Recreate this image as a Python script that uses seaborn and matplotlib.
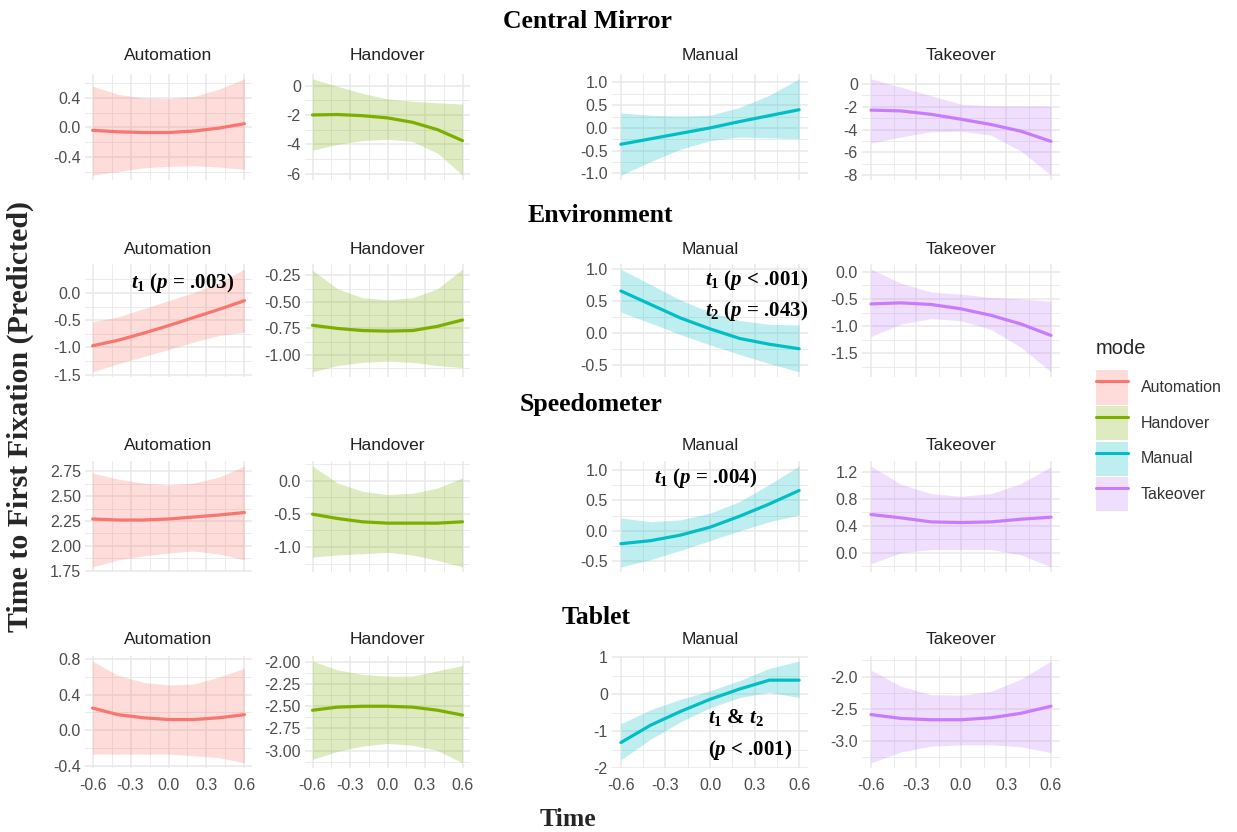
import numpy as np
import pandas as pd
import matplotlib
matplotlib.use("Agg")
import matplotlib.pyplot as plt
import seaborn as sns
from matplotlib.patches import Patch
from matplotlib.lines import Line2D

# ---------------- data ----------------
TIME = [-0.6, -0.4, -0.2, 0.0, 0.2, 0.4, 0.6]
MODES = ["Automation", "Handover", "Manual", "Takeover"]
AOIS = ["Central Mirror", "Environment", "Speedometer", "Tablet"]
COLORS = ["#F8766D", "#7CAE00", "#00BFC4", "#C77CFF"]
X_TICKS = [-0.6, -0.3, 0.0, 0.3, 0.6]

central_mirror_fit = {
    "Automation": [-0.04, -0.06, -0.07, -0.07, -0.05, -0.01, 0.05],
    "Handover": [-2.0, -1.97, -2.05, -2.2, -2.5, -3.0, -3.75],
    "Manual": [-0.36, -0.24, -0.12, 0.0, 0.14, 0.27, 0.40],
    "Takeover": [-2.3, -2.37, -2.67, -3.1, -3.56, -4.15, -5.04],
}
central_mirror_lo = {
    "Automation": [-0.65, -0.6, -0.55, -0.53, -0.52, -0.54, -0.57],
    "Handover": [-4.4, -4.0, -3.75, -3.65, -3.8, -4.6, -6.1],
    "Manual": [-1.04, -0.74, -0.47, -0.28, -0.2, -0.22, -0.24],
    "Takeover": [-5.2, -4.65, -4.2, -4.15, -4.5, -5.9, -8.0],
}
central_mirror_hi = {
    "Automation": [0.56, 0.45, 0.40, 0.39, 0.42, 0.52, 0.66],
    "Handover": [0.46, -0.05, -0.53, -0.91, -1.07, -1.17, -1.26],
    "Manual": [0.33, 0.28, 0.26, 0.28, 0.45, 0.72, 1.08],
    "Takeover": [0.44, -0.3, -1.04, -1.78, -1.93, -1.95, -1.95],
}

environment_fit = {
    "Automation": [-0.97, -0.87, -0.74, -0.6, -0.45, -0.3, -0.14],
    "Handover": [-0.72, -0.75, -0.77, -0.775, -0.77, -0.73, -0.67],
    "Manual": [0.66, 0.45, 0.24, 0.07, -0.08, -0.17, -0.24],
    "Takeover": [-0.59, -0.57, -0.6, -0.68, -0.8, -0.96, -1.17],
}
environment_lo = {
    "Automation": [-1.45, -1.3, -1.17, -1.04, -0.9, -0.78, -0.72],
    "Handover": [-1.16, -1.1, -1.07, -1.06, -1.07, -1.1, -1.12],
    "Manual": [0.33, 0.16, -0.02, -0.18, -0.33, -0.47, -0.6],
    "Takeover": [-1.19, -0.96, -0.86, -0.9, -1.06, -1.39, -1.84],
}
environment_hi = {
    "Automation": [-0.53, -0.44, -0.29, -0.14, 0.01, 0.19, 0.44],
    "Handover": [-0.2, -0.375, -0.46, -0.48, -0.46, -0.375, -0.19],
    "Manual": [1.0, 0.76, 0.52, 0.33, 0.2, 0.14, 0.13],
    "Takeover": [0.05, -0.21, -0.37, -0.41, -0.47, -0.5, -0.54],
}

speedometer_fit = {
    "Automation": [2.27, 2.26, 2.26, 2.27, 2.29, 2.31, 2.335],
    "Handover": [-0.505, -0.57, -0.62, -0.64, -0.64, -0.64, -0.62],
    "Manual": [-0.21, -0.16, -0.07, 0.06, 0.24, 0.44, 0.66],
    "Takeover": [0.57, 0.52, 0.46, 0.45, 0.46, 0.5, 0.53],
}
speedometer_lo = {
    "Automation": [1.79, 1.86, 1.90, 1.93, 1.95, 1.92, 1.86],
    "Handover": [-1.15, -1.12, -1.1, -1.08, -1.12, -1.2, -1.3],
    "Manual": [-0.59, -0.47, -0.32, -0.16, 0.0, 0.15, 0.26],
    "Takeover": [-0.16, 0.0, 0.05, 0.05, 0.05, -0.03, -0.21],
}
speedometer_hi = {
    "Automation": [2.73, 2.67, 2.63, 2.61, 2.63, 2.69, 2.80],
    "Handover": [0.22, -0.035, -0.16, -0.21, -0.19, -0.11, 0.04],
    "Manual": [0.21, 0.15, 0.18, 0.29, 0.48, 0.76, 1.06],
    "Takeover": [1.29, 1.02, 0.88, 0.84, 0.88, 1.03, 1.28],
}

tablet_fit = {
    "Automation": [0.25, 0.175, 0.14, 0.12, 0.12, 0.14, 0.175],
    "Handover": [-2.545, -2.51, -2.5, -2.5, -2.51, -2.545, -2.6],
    "Manual": [-1.31, -0.84, -0.47, -0.14, 0.14, 0.38, 0.38],
    "Takeover": [-2.59, -2.65, -2.67, -2.67, -2.64, -2.57, -2.46],
}
tablet_lo = {
    "Automation": [-0.27, -0.27, -0.27, -0.27, -0.29, -0.31, -0.37],
    "Handover": [-3.1, -3.01, -2.95, -2.92, -2.94, -3.0, -3.14],
    "Manual": [-1.78, -1.22, -0.75, -0.37, -0.09, 0.05, -0.09],
    "Takeover": [-3.34, -3.17, -3.08, -3.06, -3.06, -3.09, -3.18],
}
tablet_hi = {
    "Automation": [0.78, 0.62, 0.54, 0.51, 0.52, 0.6, 0.7],
    "Handover": [-1.99, -2.09, -2.14, -2.16, -2.16, -2.1, -2.04],
    "Manual": [-0.8, -0.42, -0.14, 0.09, 0.37, 0.7, 0.9],
    "Takeover": [-1.9, -2.15, -2.28, -2.29, -2.23, -2.04, -1.76],
}

central_mirror_yticks = {"Automation": [-0.4, 0.0, 0.4], "Handover": [-6, -4, -2, 0],
                         "Manual": [-1.0, -0.5, 0.0, 0.5, 1.0], "Takeover": [-8, -6, -4, -2, 0]}
environment_yticks = {"Automation": [-1.5, -1.0, -0.5, 0.0], "Handover": [-1.0, -0.75, -0.5, -0.25],
                      "Manual": [-0.5, 0.0, 0.5, 1.0], "Takeover": [-1.5, -1.0, -0.5, 0.0]}
speedometer_yticks = {"Automation": [1.75, 2.0, 2.25, 2.5, 2.75], "Handover": [-1.0, -0.5, 0.0],
                      "Manual": [-0.5, 0.0, 0.5, 1.0], "Takeover": [0.0, 0.4, 0.8, 1.2]}
tablet_yticks = {"Automation": [-0.4, 0.0, 0.4, 0.8], "Handover": [-3.0, -2.75, -2.5, -2.25, -2.0],
                 "Manual": [-2, -1, 0, 1], "Takeover": [-3.0, -2.5, -2.0]}

y_decimals = {
    "Central Mirror": {"Automation": 1, "Handover": 0, "Manual": 1, "Takeover": 0},
    "Environment": {"Automation": 1, "Handover": 2, "Manual": 1, "Takeover": 1},
    "Speedometer": {"Automation": 2, "Handover": 1, "Manual": 1, "Takeover": 1},
    "Tablet": {"Automation": 1, "Handover": 2, "Manual": 0, "Takeover": 1},
}

FIT = {"Central Mirror": central_mirror_fit, "Environment": environment_fit,
       "Speedometer": speedometer_fit, "Tablet": tablet_fit}
LO = {"Central Mirror": central_mirror_lo, "Environment": environment_lo,
      "Speedometer": speedometer_lo, "Tablet": tablet_lo}
HI = {"Central Mirror": central_mirror_hi, "Environment": environment_hi,
      "Speedometer": speedometer_hi, "Tablet": tablet_hi}
YTICKS = {"Central Mirror": central_mirror_yticks, "Environment": environment_yticks,
          "Speedometer": speedometer_yticks, "Tablet": tablet_yticks}

# ---------------- style ----------------
sns.set_theme(style="white")
plt.rcParams["font.family"] = ["Liberation Sans", "DejaVu Sans"]
plt.rcParams["mathtext.fontset"] = "custom"
plt.rcParams["mathtext.it"] = "Liberation Serif:italic:bold"
plt.rcParams["mathtext.rm"] = "Liberation Serif:bold"
plt.rcParams["mathtext.bf"] = "Liberation Serif:bold"

W, H = 1237, 832
fig = plt.figure(figsize=(W / 100, H / 100), dpi=100)
fig.patch.set_facecolor("white")

COLS_PX = [(85, 252), (305, 470), (612, 808), (862, 1060)]
ROWS_PX = [(74, 180), (264, 377), (461, 572), (656, 768)]
PANEL_TITLE_Y = [56, 250, 445, 640]
ROW_TITLE_POS = [(587, 21), (600, 216), (591, 405), (596, 617)]

GRID_C = "#E8E8E8"
TICK_C = "#4D4D4D"


def fx(x):
    return x / W


def fy(y):
    return 1 - y / H


def minor_breaks(major, lo, hi):
    step = major[1] - major[0]
    ext = [major[0] - step] + list(major) + [major[-1] + step]
    mids = [(a + b) / 2 for a, b in zip(ext[:-1], ext[1:])]
    return [m for m in mids if lo <= m <= hi]


for r, aoi in enumerate(AOIS):
    y0, y1 = ROWS_PX[r]
    for c, mode in enumerate(MODES):
        x0, x1 = COLS_PX[c]
        ax = fig.add_axes([fx(x0), fy(y1), (x1 - x0) / W, (y1 - y0) / H])
        fit, lo, hi = FIT[aoi][mode], LO[aoi][mode], HI[aoi][mode]
        df = pd.DataFrame({
            "time": TIME * 3,
            "value": lo + fit + hi,
        })
        sns.lineplot(data=df, x="time", y="value", estimator="median",
                     errorbar=("pi", 100), color=COLORS[c], linewidth=2.3,
                     err_kws={"alpha": 0.25, "linewidth": 0}, ax=ax)
        ymin, ymax = min(lo), max(hi)
        pad = 0.05 * (ymax - ymin)
        ax.set_ylim(ymin - pad, ymax + pad)
        ax.set_xlim(-0.66, 0.66)
        yt = YTICKS[aoi][mode]
        d = y_decimals[aoi][mode]
        ax.set_yticks(yt)
        ax.set_yticklabels([f"{v:.{d}f}" for v in yt])
        ax.set_yticks(minor_breaks(yt, ymin - pad, ymax + pad), minor=True)
        ax.set_xticks(X_TICKS)
        ax.set_xticklabels([f"{v:.1f}" for v in X_TICKS])
        ax.set_xticks([-0.45, -0.15, 0.15, 0.45], minor=True)
        ax.grid(which="major", color=GRID_C, linewidth=1.1)
        ax.grid(which="minor", color=GRID_C, linewidth=0.6)
        ax.set_axisbelow(True)
        for s in ax.spines.values():
            s.set_visible(False)
        ax.tick_params(which="both", length=0, labelsize=11.5, labelcolor=TICK_C, pad=3)
        ax.tick_params(axis="x", pad=7)
        if r < 3:
            ax.tick_params(labelbottom=False)
        ax.set_xlabel("")
        ax.set_ylabel("")
        ax.set_facecolor("white")
        fig.text(fx((x0 + x1) / 2), fy(PANEL_TITLE_Y[r]), mode, ha="center", va="center",
                 fontsize=12.5, color="#222222")
    tx, ty = ROW_TITLE_POS[r]
    fig.text(fx(tx), fy(ty), aoi, ha="center", va="center", family="Liberation Serif",
             weight="bold", fontsize=18.5, color="black")

# axis titles
fig.text(fx(568), fy(820), "Time", ha="center", va="center", family="Liberation Serif",
         weight="bold", fontsize=18.5)
fig.text(fx(20), fy(417), "Time to First Fixation (Predicted)", ha="center", va="center",
         rotation=90, family="Liberation Serif", weight="bold", fontsize=21.5)

# significance annotations
ann_kw = dict(family="Liberation Serif", weight="bold", fontsize=15, color="black", va="center")
fig.text(fx(183), fy(283), r"$t_{\mathit{1}}$ ($p$ = .003)", ha="center", **ann_kw)
fig.text(fx(808), fy(280), r"$t_{\mathit{1}}$ ($p$ < .001)", ha="right", **ann_kw)
fig.text(fx(808), fy(311), r"$t_{\mathit{2}}$ ($p$ = .043)", ha="right", **ann_kw)
fig.text(fx(706), fy(478), r"$t_{\mathit{1}}$ ($p$ = .004)", ha="center", **ann_kw)
fig.text(fx(708), fy(717), r"$t_{\mathit{1}}$ & $t_{\mathit{2}}$", ha="left", **ann_kw)
fig.text(fx(708), fy(750), r"($p$ < .001)", ha="left", **ann_kw)

# legend
handles = [(Patch(facecolor=col, alpha=0.25, edgecolor="none"),
            Line2D([], [], color=col, linewidth=2.2)) for col in COLORS]
leg = fig.legend(handles, MODES, title="mode", loc="upper left",
                 bbox_to_anchor=(fx(1088), fy(331)), frameon=False, fontsize=11.5,
                 title_fontsize=14.5, handlelength=2.0, handleheight=2.9, labelspacing=0.1,
                 handletextpad=0.8, borderpad=0, alignment="left")
leg._legend_box.sep = 9
for t in leg.get_texts():
    t.set_color("#333333")

fig.savefig("out.png", dpi=100, facecolor="white")
